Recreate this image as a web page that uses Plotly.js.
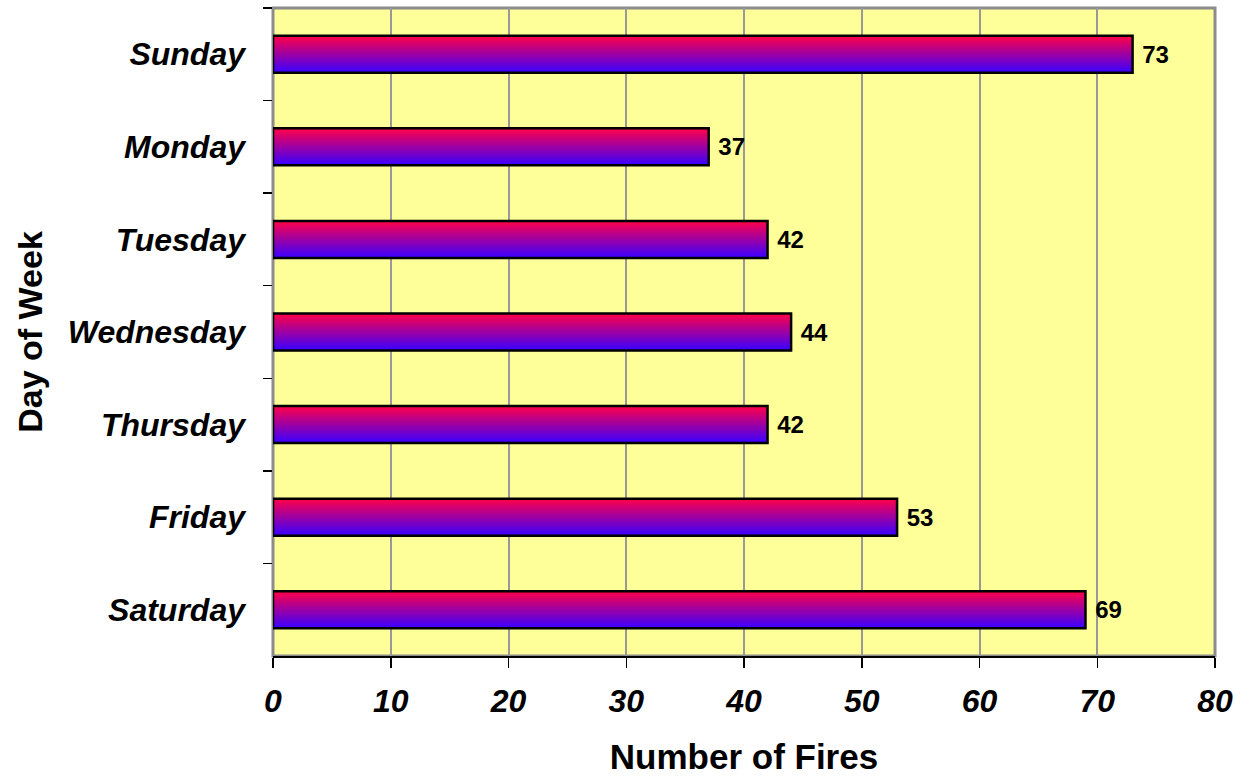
<!DOCTYPE html>
<html>
<head>
<meta charset="utf-8">
<script src="https://cdn.plot.ly/plotly-3.0.1.min.js"></script>
<style>
  html, body { margin: 0; padding: 0; background: #ffffff; }
  #chart { width: 1236px; height: 776px; }
</style>
</head>
<body>
<div id="chart"></div>
<script>
// Fires per day of the week
const days = ["Sunday", "Monday", "Tuesday", "Wednesday", "Thursday", "Friday", "Saturday"];
const fires = [73, 37, 42, 44, 42, 53, 69];
const xTicks = [0, 10, 20, 30, 40, 50, 60, 70, 80];

// Bar geometry (in category units) and gradient ends (top -> bottom)
const barWidth = 0.4;
const slices = 40;
const topColor = [255, 0, 72];
const bottomColor = [58, 0, 255];

function mix(a, b, t) {
  const c = a.map((v, k) => Math.round(v + (b[k] - v) * t));
  return "rgb(" + c.join(",") + ")";
}

const traces = [];
// Vertical gradient: each strip runs from its start down to the bar's bottom edge,
// later (lower, bluer) strips are painted over the earlier ones, so no seams appear
for (let i = 0; i < slices; i++) {
  const t = i / (slices - 1);
  const start = -barWidth / 2 + i * barWidth / slices;
  traces.push({
    type: "bar",
    orientation: "h",
    y: days,
    x: fires,
    width: barWidth / 2 - start,
    offset: start,
    marker: { color: mix(topColor, bottomColor, t), line: { width: 0 } },
    hoverinfo: "skip",
    showlegend: false
  });
}
// Outline and value labels
traces.push({
  type: "bar",
  orientation: "h",
  y: days,
  x: fires,
  width: barWidth,
  offset: -barWidth / 2,
  marker: { color: "rgba(0,0,0,0)", line: { color: "#000000", width: 2.5 } },
  text: fires.map(v => "\u00a0" + v),
  textposition: "outside",
  cliponaxis: false,
  textfont: { family: "Liberation Sans, Arial, sans-serif", size: 24, color: "#000000", weight: "bold" },
  hoverinfo: "skip",
  showlegend: false
});

const layout = {
  width: 1236,
  height: 776,
  barmode: "overlay",
  paper_bgcolor: "#ffffff",
  plot_bgcolor: "#FFFF99",
  margin: { l: 273, r: 21, t: 8, b: 120 },
  font: { family: "Liberation Sans, Arial, sans-serif", color: "#000000" },
  xaxis: {
    range: [0, 80],
    tickvals: xTicks,
    ticktext: xTicks.map(String),
    showgrid: true,
    gridcolor: "#999999",
    gridwidth: 2,
    zeroline: false,
    showline: true,
    linecolor: "#000000",
    linewidth: 2,
    ticks: "outside",
    ticklen: 10,
    tickwidth: 1.5,
    tickcolor: "#000000",
    ticklabelstandoff: 6,
    tickfont: { size: 32, weight: "bold", style: "italic", color: "#000000" },
    title: {
      text: "Number of Fires",
      font: { size: 35, weight: "bold", color: "#000000" },
      standoff: 27
    },
    automargin: false,
    fixedrange: true
  },
  yaxis: {
    type: "category",
    categoryorder: "array",
    categoryarray: days,
    autorange: "reversed",
    showgrid: false,
    zeroline: false,
    showline: false,
    ticks: "outside",
    tickson: "boundaries",
    ticklen: 9,
    tickwidth: 1.5,
    tickcolor: "#000000",
    ticklabelstandoff: 27,
    tickfont: { size: 32, weight: "bold", style: "italic", color: "#000000" },
    title: {
      text: "Day of Week",
      font: { size: 34, weight: "bold", color: "#000000" },
      standoff: 14
    },
    automargin: false,
    fixedrange: true
  },
  shapes: [
    {
      type: "rect", xref: "paper", yref: "paper",
      x0: 0, x1: 1, y0: 0, y1: 1,
      line: { color: "#8c8c8c", width: 3 },
      fillcolor: "rgba(0,0,0,0)",
      layer: "below"
    }
  ]
};

Plotly.newPlot("chart", traces, layout, { staticPlot: true, displayModeBar: false });
</script>
</body>
</html>
